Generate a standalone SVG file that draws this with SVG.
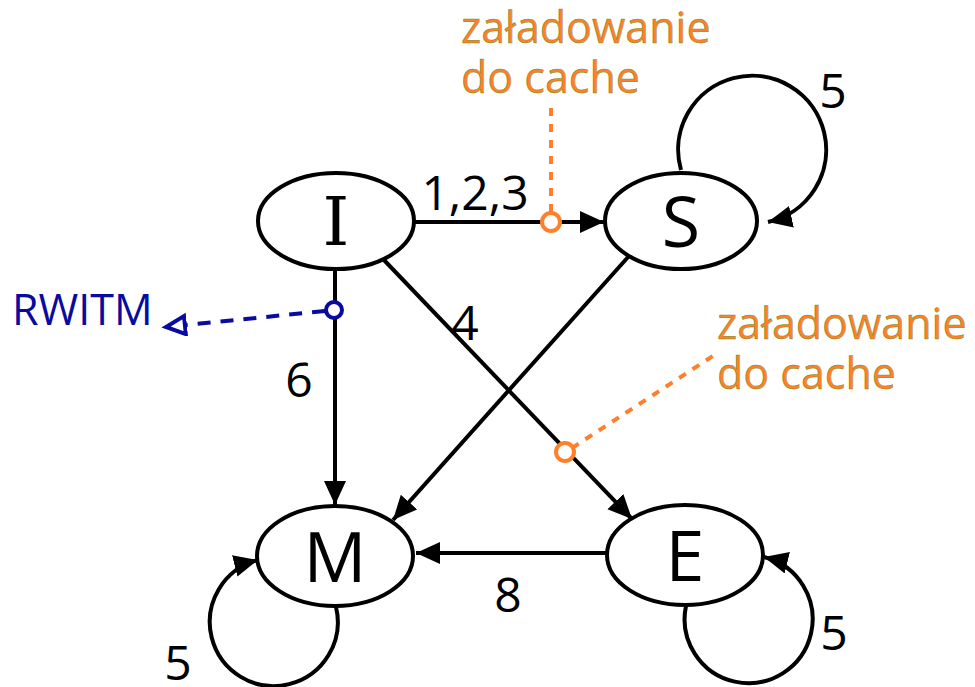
<svg xmlns="http://www.w3.org/2000/svg" width="975" height="687" viewBox="0 0 975 687">
  <style>
    .node { fill: #ffffff; stroke: #000000; stroke-width: 4; }
    .state { font-family: "Open Sans", "Noto Sans", sans-serif; font-size: 70px; fill: #000000; text-anchor: middle; }
    .stateI { font-family: "DejaVu Serif", "Liberation Serif", serif; font-size: 68px; fill: #000000; text-anchor: middle; }
    .edge { fill: none; stroke: #000000; stroke-width: 4; }
    .lbl { font-family: "Open Sans", "Noto Sans", sans-serif; font-size: 48px; fill: #000000; text-anchor: middle; }
    .note { font-family: "Open Sans", "Noto Sans", sans-serif; font-size: 43px; fill: #ff7f2a; stroke: #4a8c10; stroke-width: 0.5; stroke-opacity: 0.8; }
    .cache { fill: none; stroke: #ff7f2a; stroke-width: 4; stroke-dasharray: 8 8; }
    .tap { fill: #ffffff; stroke: #ff7f2a; stroke-width: 4; }
    .rw { fill: none; stroke: #0a0aa0; stroke-width: 4; stroke-dasharray: 13 10; }
  </style>
  <defs>
    <marker id="arrow" markerUnits="userSpaceOnUse" markerWidth="26" markerHeight="24" refX="24" refY="11" orient="auto">
      <path d="M0,0 L24,11 L0,22 z" fill="#000000"/>
    </marker>
    <marker id="open" markerUnits="userSpaceOnUse" markerWidth="26" markerHeight="24" refX="21" refY="11" orient="auto">
      <path d="M2,2 L21,11 L2,20 z" fill="#ffffff" stroke="#0a0aa0" stroke-width="4"/>
    </marker>
  </defs>

  <!-- transitions -->
  <g id="connectors">
    <line class="edge" x1="415" y1="222" x2="604" y2="222" marker-end="url(#arrow)"/>
    <line class="edge" x1="335" y1="270" x2="335" y2="505" marker-end="url(#arrow)"/>
    <line class="edge" x1="383" y1="259" x2="632" y2="519" marker-end="url(#arrow)"/>
    <line class="edge" x1="629" y1="256" x2="393" y2="520" marker-end="url(#arrow)"/>
    <line class="edge" x1="607" y1="553" x2="416" y2="553" marker-end="url(#arrow)"/>
    <path class="edge" d="M681,170 A74,74 0 1 1 768,222" marker-end="url(#arrow)"/>
    <path class="edge" d="M336,607 A64,64 0 1 1 258,560" marker-end="url(#arrow)"/>
    <path class="edge" d="M686,606 A64,64 0 1 0 764,557" marker-end="url(#arrow)"/>

    <text class="lbl" x="475" y="210">1,2,3</text>
    <text class="lbl" x="299" y="397">6</text>
    <text class="lbl" x="465" y="340">4</text>
    <text class="lbl" x="508" y="612">8</text>
    <text class="lbl" x="833" y="108">5</text>
    <text class="lbl" x="178" y="680">5</text>
    <text class="lbl" x="834" y="650">5</text>

    <!-- cache fill taps -->
    <line class="cache" x1="551" y1="212" x2="551" y2="108"/>
    <circle class="tap" cx="551" cy="222" r="9"/>
    <line class="cache" x1="572" y1="448" x2="719" y2="352"/>
    <circle class="tap" cx="565" cy="452" r="9"/>

    <!-- RWITM bus request -->
    <line class="rw" x1="325" y1="311" x2="166" y2="327" marker-end="url(#open)"/>
    <circle cx="334" cy="310" r="8" fill="#ffffff" stroke="#0a0aa0" stroke-width="4"/>
  </g>

  <text class="note" x="461" y="43">załadowanie</text>
  <text class="note" x="461" y="93">do cache</text>
  <text class="note" x="717" y="339">załadowanie</text>
  <text class="note" x="717" y="389">do cache</text>
  <text x="12" y="325" font-family="Open Sans, Noto Sans, sans-serif" font-size="43" fill="#0a0aa0">RWITM</text>

  <g id="node-I">
    <ellipse class="node" cx="336" cy="221" rx="78" ry="48"/>
    <text class="stateI" x="336" y="245">I</text>
  </g>
  <g id="node-S">
    <ellipse class="node" cx="681" cy="221" rx="76" ry="48"/>
    <text class="state" x="681" y="247">S</text>
  </g>
  <g id="node-M">
    <ellipse class="node" cx="335" cy="556" rx="78" ry="50"/>
    <text class="state" x="335" y="582">M</text>
  </g>
  <g id="node-E">
    <ellipse class="node" cx="685" cy="555" rx="78" ry="50"/>
    <text class="state" x="685" y="581">E</text>
  </g>
</svg>
